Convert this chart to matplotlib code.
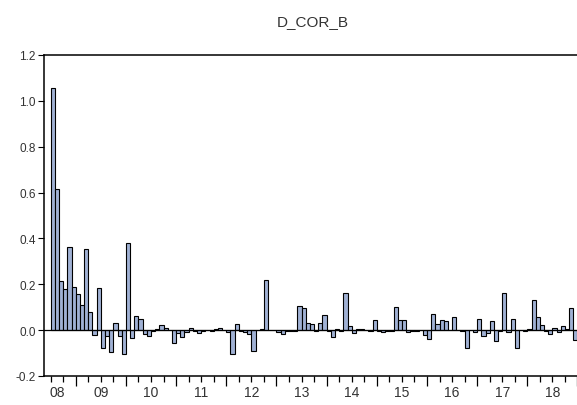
import numpy as np
import matplotlib
matplotlib.use("Agg")
import matplotlib.pyplot as plt

plt.rcParams['font.family'] = ['Liberation Sans', 'DejaVu Sans']

# monthly changes, 2008M07 .. 2018M12
v2008 = [1.058, 0.617, 0.216, 0.178, 0.362, 0.190]
v2009 = [0.158, 0.109, 0.353, 0.080, -0.022, 0.185, -0.080, -0.026, -0.095, 0.032, -0.026, -0.105]
v2010 = [0.380, -0.034, 0.061, 0.047, -0.015, -0.026, -0.005, 0.005, 0.022, 0.010, 0.002, -0.058]
v2011 = [-0.012, -0.032, -0.006, 0.008, -0.004, -0.014, -0.003, 0.001, -0.003, 0.004, 0.010, 0.001]
v2012 = [-0.010, -0.105, 0.026, -0.005, -0.010, -0.017, -0.090, 0.001, 0.005, 0.219, 0.001, 0.001]
v2013 = [-0.010, -0.015, -0.003, -0.003, -0.003, 0.105, 0.095, 0.032, 0.027, -0.005, 0.030, 0.064]
v2014 = [-0.002, -0.032, 0.003, -0.003, 0.164, 0.018, -0.013, 0.003, 0.003, 0.001, -0.003, 0.044]
v2015 = [-0.005, -0.010, -0.004, -0.004, 0.099, 0.043, 0.043, -0.010, -0.005, -0.005, 0.001, -0.022]
v2016 = [-0.037, 0.069, 0.025, 0.043, 0.040, 0.001, 0.058, 0.001, -0.003, -0.080, 0.001, -0.009]
v2017 = [0.047, -0.026, -0.012, 0.042, -0.047, -0.002, 0.163, -0.008, 0.047, -0.080, -0.001, -0.004]
v2018 = [0.003, 0.131, 0.058, 0.021, -0.003, -0.015, 0.010, -0.010, 0.020, 0.003, 0.095, -0.041]

years = list(range(2008, 2019))
year_labels = ['08', '09', '10', '11', '12', '13', '14', '15', '16', '17', '18']
first_month = 6  # July 2008, counted in months from 2008M01

values = np.array(v2008 + v2009 + v2010 + v2011 + v2012 + v2013 + v2014
                  + v2015 + v2016 + v2017 + v2018)
months = first_month + np.arange(len(values))

fig = plt.figure(figsize=(5.77, 4.06), dpi=100)
ax = fig.add_axes([44 / 577, 29 / 406, 536 / 577, 321 / 406])

ax.bar(months, values, width=1.0, align='edge', color='#a0b1d4',
       edgecolor='black', linewidth=0.8, zorder=2)
ax.axhline(0, color='black', linewidth=0.9, zorder=3)

ax.set_xlim(4.4, 132.6)
ax.set_ylim(-0.2, 1.2)

ax.set_yticks(np.arange(-0.2, 1.21, 0.2))
ax.set_yticklabels([f"{t:.1f}" for t in np.arange(-0.2, 1.21, 0.2)])
ax.tick_params(axis='y', direction='out', length=4, width=0.8,
               labelsize=8.5, labelcolor='#333333', pad=2)

# year boundaries get long ticks, quarters get short ones
ax.set_xticks(np.arange(12, 133, 12))
ax.set_xticklabels([])
ax.set_xticks(np.arange(6, 133, 3), minor=True)
ax.tick_params(axis='x', which='major', direction='out', length=7, width=0.9)
ax.tick_params(axis='x', which='minor', direction='out', length=4, width=0.9)

for yr, lab in zip(years, year_labels):
    pos = (yr - 2008) * 12 + 6
    if yr == 2008:
        pos = 7.5
    ax.text(pos, -0.24, lab, ha='center', va='top', fontsize=10,
            color='#333333', transform=ax.transData, clip_on=False)

for s in ax.spines.values():
    s.set_linewidth(1.1)

fig.text(313 / 577, 1 - 22 / 406, 'D_COR_B', ha='center', va='center',
         fontsize=11, color='#333333')

fig.savefig('out.png', dpi=100)
